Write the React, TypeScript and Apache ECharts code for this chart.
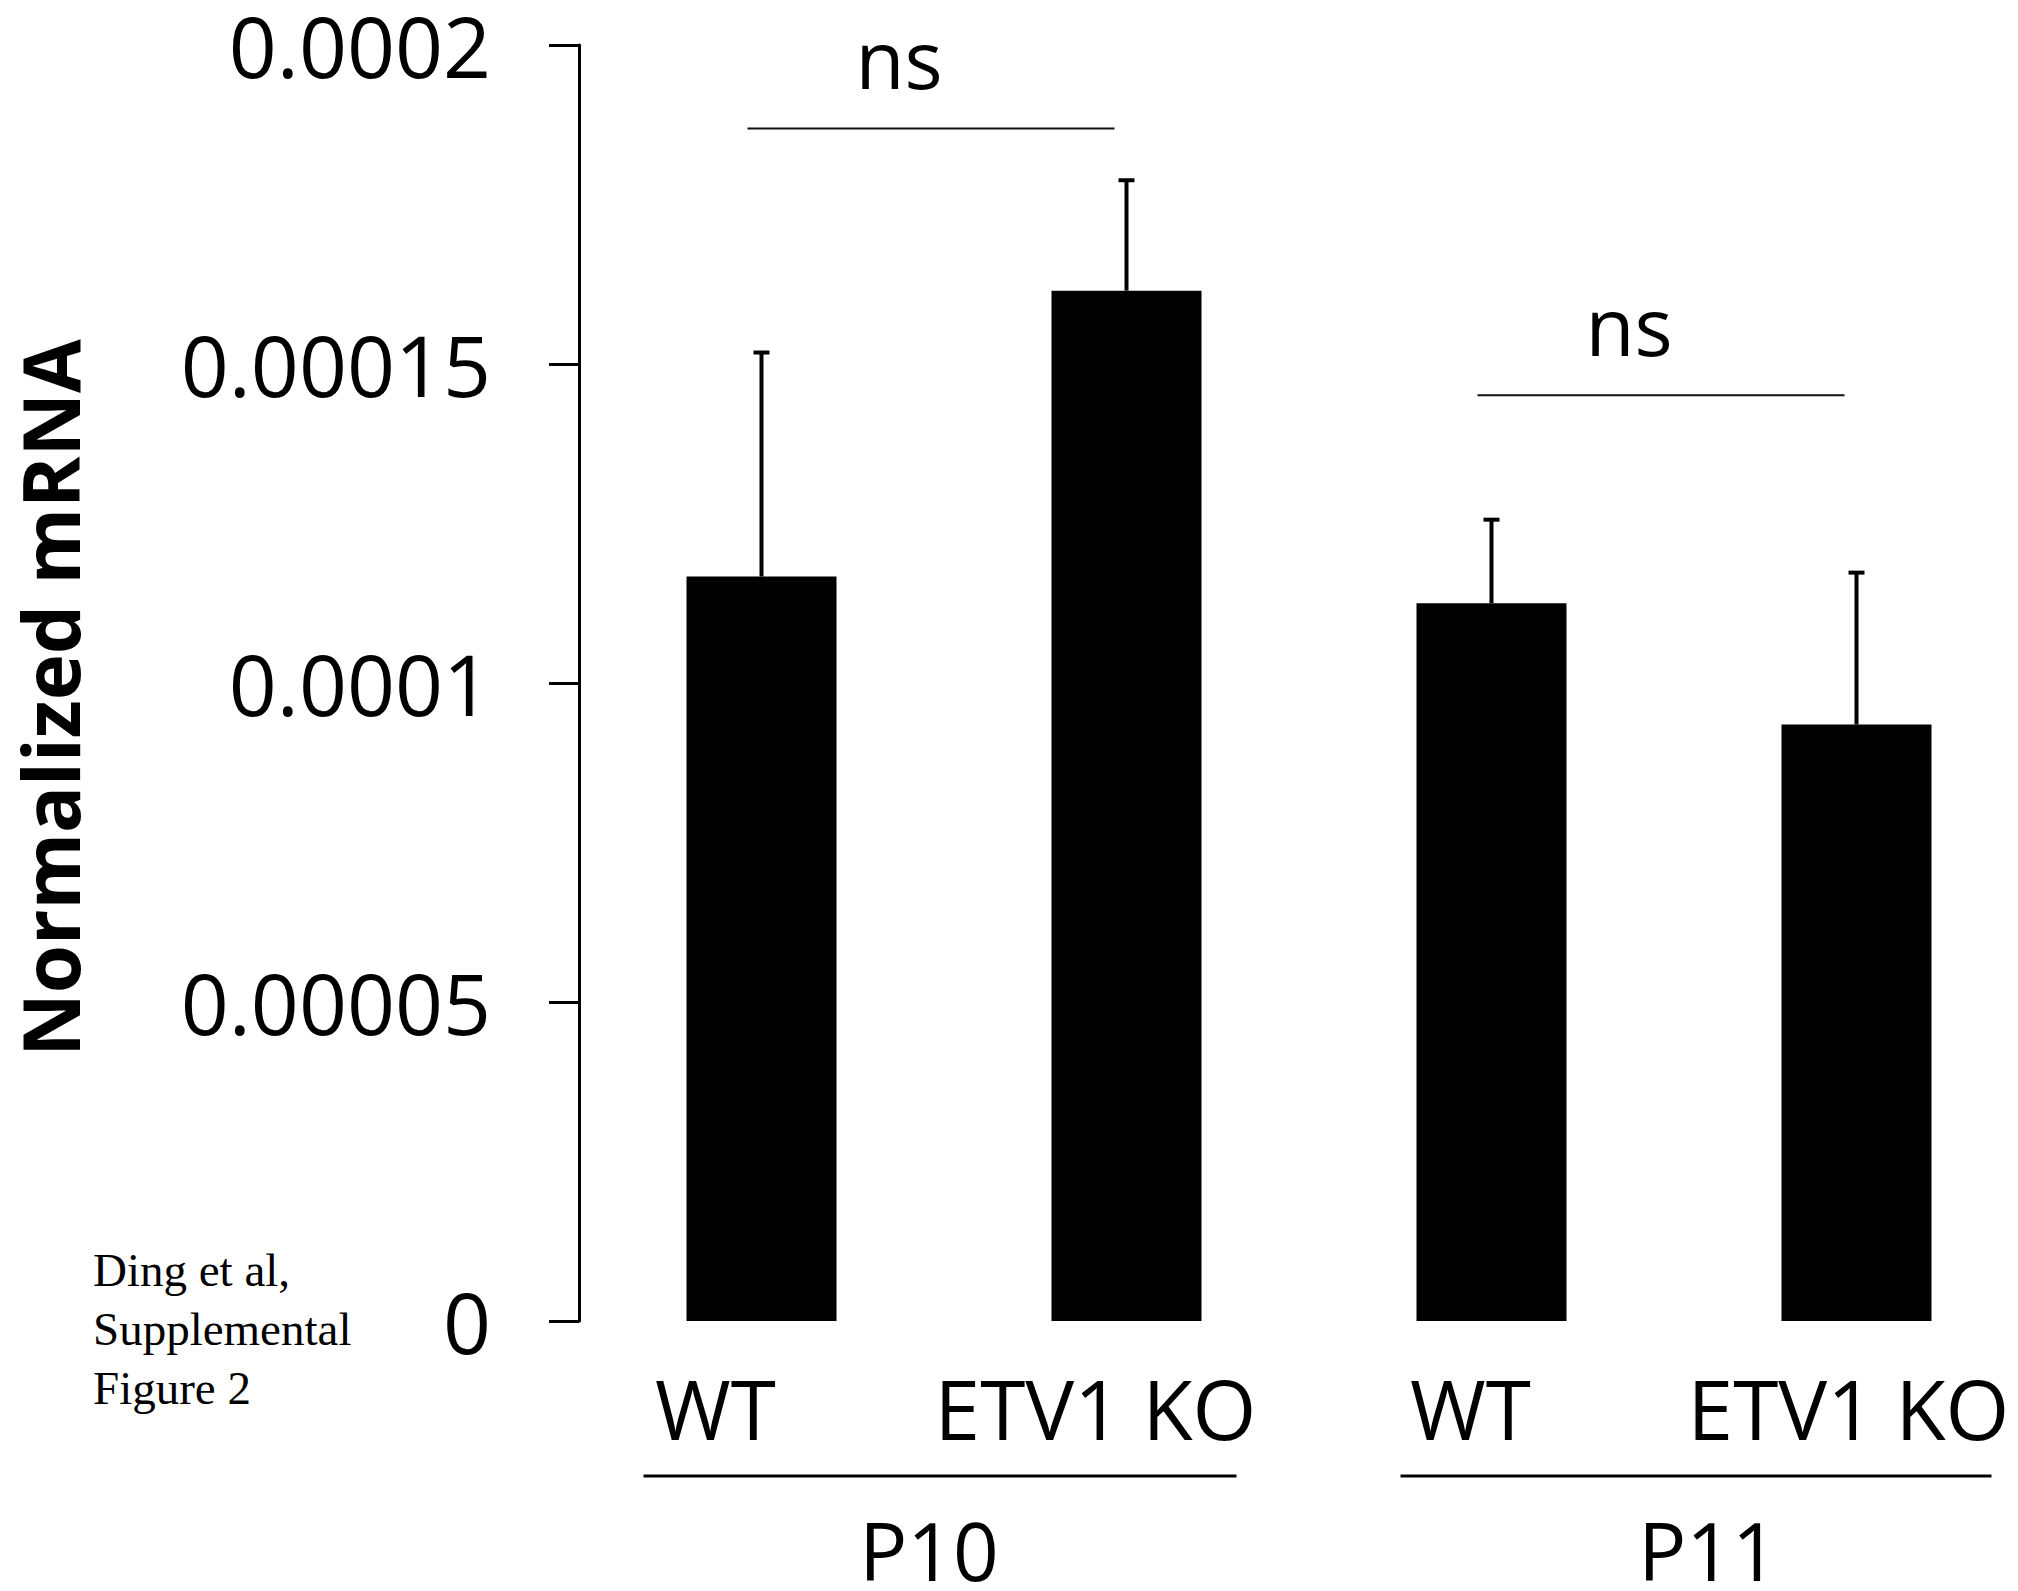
import React, { useEffect, useRef } from "react";
import * as echarts from "echarts";

// ---------- data ----------
const categories = ["WT", "ETV1 KO", "WT", "ETV1 KO"];
const means = [0.0001167, 0.0001615, 0.0001125, 0.0000935];
const errorTops = [0.0001518, 0.0001788, 0.0001256, 0.0001173];
const yTickLabels = ["0", "0.00005", "0.0001", "0.00015", "0.0002"];
const groupNames = ["P10", "P11"];
const groupFirst = [0, 2];
const groupLast = [1, 3];
const sigTexts = ["ns", "ns"];
const sigLevels = [0.0001869, 0.0001451];
const noteLines = ["Ding et al,", "Supplemental", "Figure 2"];

// ---------- layout (pixel offsets, not data) ----------
const labelShift = [-46, -31, -21, -8];
const groupLineStart = [-118, -91];
const groupLineEnd = [110, 135];
const groupTextShift = [-15, 34];

const FONT = "'Open Sans', 'Noto Sans', sans-serif";

export default function App() {
  const ref = useRef<HTMLDivElement>(null);

  useEffect(() => {
    if (!ref.current) return;
    const chart = echarts.init(ref.current, undefined, { renderer: "svg" });

    const option: any = {
      animation: false,
      backgroundColor: "#ffffff",
      grid: {
        left: 579,
        top: 45,
        bottom: 270,
        right: -21,
        containLabel: false,
        outerBoundsMode: "none",
      },
      xAxis: {
        type: "category",
        data: categories,
        axisLine: { show: false },
        axisTick: { show: false },
        axisLabel: { show: false },
        splitLine: { show: false },
      },
      yAxis: {
        type: "value",
        min: 0,
        max: 0.0002,
        interval: 0.00005,
        name: "Normalized mRNA",
        nameLocation: "middle",
        nameRotate: 90,
        nameGap: 494,
        nameTextStyle: {
          fontSize: 78,
          lineHeight: 70,
          fontWeight: "bold",
          fontFamily: FONT,
          color: "#000",
          padding: [0, 30, 0, 0],
        },
        axisLine: { show: true, lineStyle: { color: "#000", width: 3 } },
        axisTick: { show: true, length: 30, lineStyle: { color: "#000", width: 3 } },
        splitLine: { show: false },
        axisLabel: {
          margin: 88,
          fontSize: 84,
          lineHeight: 84,
          fontFamily: FONT,
          color: "#000",
          formatter: (v: number) => yTickLabels[Math.round(v / 0.00005)] ?? String(v),
        },
      },
      series: [
        {
          type: "bar",
          data: means,
          barWidth: 150,
          itemStyle: { color: "#000" },
          z: 2,
        },
        {
          type: "custom",
          z: 3,
          clip: false,
          data: means.map((m, i) => [i, m, errorTops[i]]),
          renderItem: (_params: any, api: any) => {
            const base = api.coord([api.value(0), api.value(1)]);
            const top = api.coord([api.value(0), api.value(2)]);
            const cw = 8;
            return {
              type: "group",
              children: [
                {
                  type: "line",
                  shape: { x1: base[0], y1: base[1], x2: top[0], y2: top[1] },
                  style: { stroke: "#000", lineWidth: 4 },
                },
                {
                  type: "line",
                  shape: { x1: top[0] - cw, y1: top[1], x2: top[0] + cw, y2: top[1] },
                  style: { stroke: "#000", lineWidth: 4 },
                },
              ],
            };
          },
        },
        // significance brackets
        {
          type: "custom",
          z: 3,
          clip: false,
          data: sigLevels.map((lv, i) => [groupFirst[i], groupLast[i], lv]),
          renderItem: (params: any, api: any) => {
            const p0 = api.coord([api.value(0), api.value(2)]);
            const p1 = api.coord([api.value(1), api.value(2)]);
            const x0 = p0[0] - 14;
            const x1 = p1[0] - 12;
            return {
              type: "group",
              children: [
                {
                  type: "line",
                  shape: { x1: x0, y1: p0[1], x2: x1, y2: p1[1] },
                  style: { stroke: "#111", lineWidth: 2 },
                },
                {
                  type: "text",
                  style: {
                    text: sigTexts[params.dataIndex],
                    x: (x0 + x1) / 2 - 32,
                    y: p0[1] - 71,
                    fill: "#000",
                    fontSize: 80,
                    fontFamily: FONT,
                    align: "center",
                    verticalAlign: "middle",
                  },
                },
              ],
            };
          },
        },
        // category labels
        {
          type: "custom",
          z: 3,
          clip: false,
          data: categories.map((_c, i) => [i, 0]),
          renderItem: (params: any, api: any) => {
            const p = api.coord([api.value(0), 0]);
            const i = params.dataIndex;
            return {
              type: "text",
              style: {
                text: categories[i],
                x: p[0] + labelShift[i],
                y: p[1] + 87,
                fill: "#000",
                fontSize: 82,
                fontFamily: FONT,
                align: "center",
                verticalAlign: "middle",
              },
            };
          },
        },
        // group lines & names
        {
          type: "custom",
          z: 3,
          clip: false,
          data: groupNames.map((_g, i) => [groupFirst[i], groupLast[i]]),
          renderItem: (params: any, api: any) => {
            const i = params.dataIndex;
            const p0 = api.coord([api.value(0), 0]);
            const p1 = api.coord([api.value(1), 0]);
            const ly = p0[1] + 155;
            return {
              type: "group",
              children: [
                {
                  type: "line",
                  shape: { x1: p0[0] + groupLineStart[i], y1: ly, x2: p1[0] + groupLineEnd[i], y2: ly },
                  style: { stroke: "#000", lineWidth: 3 },
                },
                {
                  type: "text",
                  style: {
                    text: groupNames[i],
                    x: (p0[0] + p1[0]) / 2 + groupTextShift[i],
                    y: p0[1] + 228,
                    fill: "#000",
                    fontSize: 80,
                    lineHeight: 70,
                    fontFamily: FONT,
                    align: "center",
                    verticalAlign: "middle",
                  },
                },
              ],
            };
          },
        },
      ],
      graphic: [
        {
          type: "text",
          left: 93,
          top: 1240,
          style: {
            text: noteLines.join("\n"),
            fill: "#000",
            fontSize: 47,
            lineHeight: 59,
            fontFamily: "'Liberation Serif', 'DejaVu Serif', serif",
          },
        },
      ],
    };

    chart.setOption(option);
    return () => chart.dispose();
  }, []);

  return (
    <div
      ref={ref}
      style={{ position: "absolute", left: 0, top: 0, width: 2018, height: 1591, background: "#fff" }}
    />
  );
}
